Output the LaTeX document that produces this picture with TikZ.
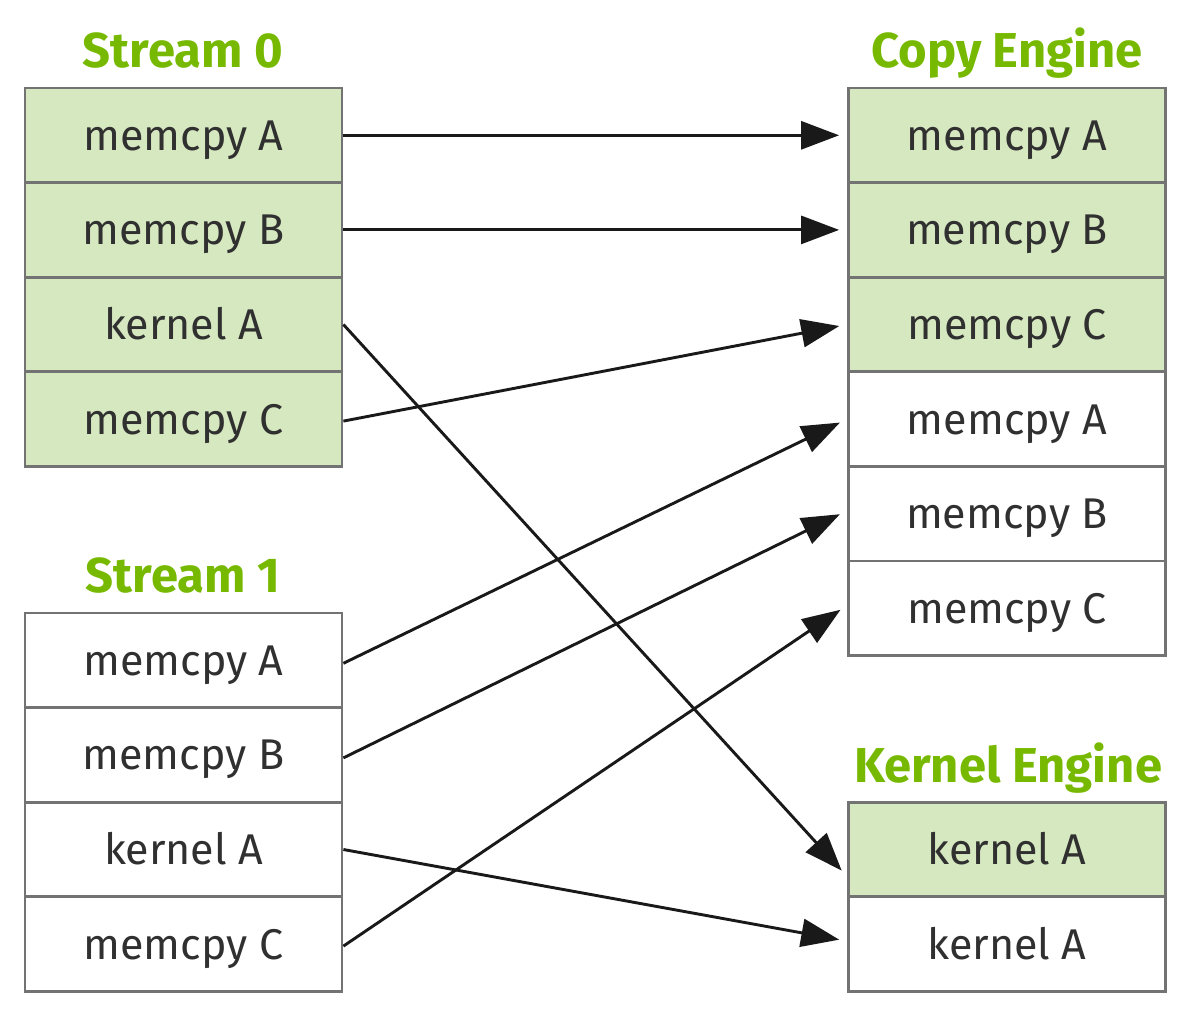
\documentclass[tikz,border=0pt]{standalone}
\usepackage{fontspec}
\setmainfont{Fira Sans}
\usetikzlibrary{arrows.meta}
\definecolor{nvgreen}{HTML}{76B900}
\definecolor{rowgreen}{HTML}{D6E8C0}
\definecolor{rowline}{HTML}{737373}
\definecolor{txt}{HTML}{303030}
\tikzset{
  row/.style={draw=rowline, line width=2.8pt, minimum width=317pt, minimum height=94.6pt,
    inner sep=0pt, text=txt, font=\fontsize{43}{43}\selectfont, text height=30pt, text depth=0pt},
  busy/.style={row, fill=rowgreen},
  idle/.style={row, fill=white},
  title/.style={text=nvgreen, font=\fontsize{49}{49}\selectfont\bfseries, anchor=base, inner sep=0pt},
  flow/.style={line width=2.9pt, black!90, -{Triangle[length=38pt,width=28pt]}, shorten >=8pt}
}
\begin{document}
\begin{tikzpicture}[x=1pt,y=-1pt]
\useasboundingbox (0,0) rectangle (1192,1012);
% titles
\node[title] (t0) at (183,67) {Stream 0};
\node[title] (t1) at (183,592) {Stream 1};
\node[title] (tc) at (1007,67) {Copy Engine};
\node[title] (tk) at (1008,782) {Kernel Engine};
% stream 0
\node[busy] (a0) at (183.5,135.3) {memcpy A};
\node[busy] (a1) at (183.5,229.9) {memcpy B};
\node[busy] (a2) at (183.5,324.5) {kernel A};
\node[busy] (a3) at (183.5,419.1) {memcpy C};
% stream 1
\node[idle] (b0) at (183.5,660.3) {memcpy A};
\node[idle] (b1) at (183.5,754.9) {memcpy B};
\node[idle] (b2) at (183.5,849.5) {kernel A};
\node[idle] (b3) at (183.5,944.1) {memcpy C};
% copy engine
\node[busy] (c0) at (1007,135.3) {memcpy A};
\node[busy] (c1) at (1007,229.9) {memcpy B};
\node[busy] (c2) at (1007,324.5) {memcpy C};
\node[idle] (c3) at (1007,419.1) {memcpy A};
\node[idle] (c4) at (1007,513.7) {memcpy B};
\node[idle] (c5) at (1007,608.3) {memcpy C};
% kernel engine
\node[busy] (k0) at (1007,849.5) {kernel A};
\node[idle] (k1) at (1007,944.1) {kernel A};
% arrows
\draw[flow] (a0.east) -- (c0.west);
\draw[flow] (a1.east) -- (c1.west);
\draw[flow] (a2.east) -- ([yshift=-27pt]k0.west);
\draw[flow] ([yshift=-2pt]a3.east) -- (c2.west);
\draw[flow] ([yshift=-3pt]b0.east) -- (c3.west);
\draw[flow] ([yshift=-3pt]b1.east) -- ([yshift=3pt]c4.west);
\draw[flow] (b2.east) -- ([yshift=3pt]k1.west);
\draw[flow] ([yshift=-2pt]b3.east) -- ([yshift=3pt]c5.west);
\end{tikzpicture}
\end{document}
